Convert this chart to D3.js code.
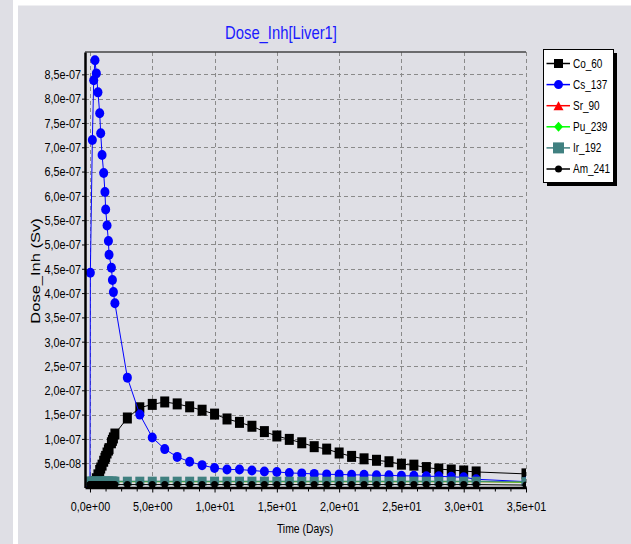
<!DOCTYPE html>
<html>
<head>
<meta charset="utf-8">
<script src="https://cdn.jsdelivr.net/npm/d3@7"></script>
<style>
  body { margin: 0; background: #dfdfe5; }
  text { font-family: "Liberation Sans", Arial, sans-serif; }
</style>
</head>
<body>
<div id="chart"></div>
<script>
// time points (days)
const times = [0, 0.03, 0.19, 0.3, 0.4, 0.51, 0.64, 0.78, 0.86, 0.97, 1.1, 1.2, 1.26, 1.37, 1.48, 1.53, 1.72, 1.8, 1.88, 2.0,
  3, 4, 5, 6, 7, 8, 9, 10, 11, 12, 13, 14, 15, 16, 17, 18, 19, 20, 21, 22, 23, 24, 25, 26, 27, 28, 29, 30, 31, 35];

// dose values, in units of 1e-7 Sv
const co60 = [0, 0, 0.01, 0.06, 0.12, 0.18, 0.26, 0.35, 0.40, 0.46, 0.54, 0.60, 0.64, 0.71, 0.77, 0.80, 0.92, 0.97, 1.02, 1.10,
  1.43, 1.64, 1.71, 1.76, 1.72, 1.66, 1.59, 1.51, 1.41, 1.34, 1.26, 1.15, 1.06, 0.99, 0.92, 0.84, 0.79, 0.71, 0.64, 0.59,
  0.56, 0.53, 0.48, 0.46, 0.41, 0.38, 0.36, 0.34, 0.32, 0.28];
const cs137 = [0, 4.42, 7.15, 8.38, 8.79, 8.52, 8.13, 7.70, 7.29, 6.84, 6.47, 6.08, 5.72, 5.39, 5.07, 4.79, 4.52, 4.27, 4.02, 3.79,
  2.26, 1.50, 1.03, 0.79, 0.63, 0.53, 0.46, 0.40, 0.37, 0.37, 0.35, 0.33, 0.32, 0.30, 0.29, 0.28, 0.27, 0.27, 0.26, 0.26,
  0.25, 0.25, 0.24, 0.24, 0.23, 0.23, 0.22, 0.21, 0.17, 0.12];
const sr90 = [0.12, 0.12, 0.12, 0.12, 0.12, 0.12, 0.12, 0.12, 0.12, 0.12, 0.12, 0.12, 0.12, 0.12, 0.12, 0.12, 0.12, 0.12, 0.12, 0.12,
  0.12, 0.12, 0.12, 0.12, 0.12, 0.12, 0.12, 0.12, 0.12, 0.12, 0.12, 0.12, 0.12, 0.12, 0.12, 0.12, 0.12, 0.12, 0.12, 0.12,
  0.12, 0.12, 0.12, 0.12, 0.12, 0.12, 0.12, 0.12, 0.12, 0.11];
const pu239 = [0.12, 0.12, 0.12, 0.12, 0.12, 0.12, 0.12, 0.12, 0.12, 0.12, 0.12, 0.12, 0.12, 0.12, 0.12, 0.12, 0.12, 0.12, 0.12, 0.12,
  0.12, 0.12, 0.12, 0.12, 0.12, 0.12, 0.12, 0.12, 0.12, 0.12, 0.12, 0.12, 0.12, 0.12, 0.12, 0.12, 0.12, 0.12, 0.12, 0.12,
  0.12, 0.12, 0.12, 0.12, 0.12, 0.12, 0.12, 0.12, 0.12, 0.11];
const ir192 = [0.13, 0.13, 0.13, 0.13, 0.13, 0.13, 0.13, 0.13, 0.13, 0.13, 0.13, 0.13, 0.13, 0.13, 0.13, 0.13, 0.13, 0.13, 0.13, 0.13,
  0.13, 0.13, 0.13, 0.13, 0.13, 0.13, 0.13, 0.13, 0.13, 0.13, 0.13, 0.13, 0.13, 0.13, 0.13, 0.13, 0.13, 0.13, 0.13, 0.13,
  0.13, 0.13, 0.13, 0.13, 0.13, 0.13, 0.13, 0.13, 0.13, 0.12];
const am241 = [0.06, 0.06, 0.06, 0.06, 0.06, 0.06, 0.06, 0.06, 0.06, 0.06, 0.06, 0.06, 0.06, 0.06, 0.06, 0.06, 0.06, 0.06, 0.06, 0.06,
  0.06, 0.06, 0.06, 0.06, 0.06, 0.06, 0.06, 0.06, 0.06, 0.06, 0.06, 0.06, 0.06, 0.06, 0.06, 0.06, 0.06, 0.06, 0.06, 0.06,
  0.06, 0.06, 0.06, 0.06, 0.06, 0.06, 0.06, 0.06, 0.06, 0.05];

const seriesNames = ["Co_60", "Cs_137", "Sr_90", "Pu_239", "Ir_192", "Am_241"];

const xTickValues = [0, 5, 10, 15, 20, 25, 30, 35];
const xTickLabels = ["0,0e+00", "5,0e+00", "1,0e+01", "1,5e+01", "2,0e+01", "2,5e+01", "3,0e+01", "3,5e+01"];
const yTickValues = [0.5, 1.0, 1.5, 2.0, 2.5, 3.0, 3.5, 4.0, 4.5, 5.0, 5.5, 6.0, 6.5, 7.0, 7.5, 8.0, 8.5];
const yTickLabels = ["5,0e-08", "1,0e-07", "1,5e-07", "2,0e-07", "2,5e-07", "3,0e-07", "3,5e-07", "4,0e-07", "4,5e-07",
  "5,0e-07", "5,5e-07", "6,0e-07", "6,5e-07", "7,0e-07", "7,5e-07", "8,0e-07", "8,5e-07"];

const W = 631, H = 544;
const plot = { left: 85, right: 526, top: 52, bottom: 487.5 };
const squeeze = 0.8; // the original's text is horizontally narrow

const svg = d3.select("#chart")
  .append("svg")
  .attr("width", W)
  .attr("height", H);

// window background
svg.append("rect").attr("width", W).attr("height", H).attr("fill", "#dfdfe5");
svg.append("rect").attr("x", 13).attr("y", 0).attr("width", 5).attr("height", H).attr("fill", "#fff");
svg.append("rect").attr("x", 13).attr("y", 0).attr("width", W - 13).attr("height", 5.5).attr("fill", "#fff");

const x = d3.scaleLinear().domain([-0.4, 35]).range([plot.left, plot.right]);
const y = d3.scaleLinear().domain([0, 8.96]).range([plot.bottom, plot.top]);

// narrow text placed at (px, py)
function narrowText(sel, px, py, size, str) {
  return sel.append("text")
    .attr("transform", `translate(${px},${py}) scale(${squeeze},1)`)
    .style("font-size", size + "px")
    .text(str);
}

// grid
const grid = svg.append("g")
  .attr("stroke", "#8a8a8a")
  .attr("stroke-width", 1)
  .attr("stroke-dasharray", "4,3");
grid.selectAll(".hg").data(yTickValues).join("line")
  .attr("x1", plot.left).attr("x2", plot.right)
  .attr("y1", d => Math.round(y(d)) + 0.5).attr("y2", d => Math.round(y(d)) + 0.5);
grid.selectAll(".vg").data(xTickValues).join("line")
  .attr("y1", plot.top).attr("y2", plot.bottom)
  .attr("x1", d => Math.round(x(d)) + 0.5).attr("x2", d => Math.round(x(d)) + 0.5);

// top frame line
svg.append("line")
  .attr("x1", plot.left).attr("x2", plot.right)
  .attr("y1", plot.top).attr("y2", plot.top)
  .attr("stroke", "#444").attr("stroke-width", 1.5);

// series
svg.append("defs").append("clipPath").attr("id", "clip")
  .append("rect")
  .attr("x", plot.left).attr("y", plot.top)
  .attr("width", plot.right - plot.left).attr("height", plot.bottom - plot.top);

const series = [
  { name: seriesNames[0], values: co60, color: "#000000", marker: "rect", w: 9, h: 11 },
  { name: seriesNames[1], values: cs137, color: "#0000ff", marker: "ellipse", w: 9, h: 10 },
  { name: seriesNames[2], values: sr90, color: "#ff0000", marker: "triangle", w: 7, h: 7 },
  { name: seriesNames[3], values: pu239, color: "#00ff00", marker: "diamond", w: 7, h: 7 },
  { name: seriesNames[4], values: ir192, color: "#408080", marker: "rect", w: 9, h: 9 },
  { name: seriesNames[5], values: am241, color: "#000000", marker: "ellipse", w: 7, h: 7 }
];

const line = d3.line().x(d => x(d[0])).y(d => y(d[1]));

function drawMarker(g, m, color, cx, cy) {
  if (m.marker === "rect") {
    g.append("rect").attr("x", cx - m.w / 2).attr("y", cy - m.h / 2)
      .attr("width", m.w).attr("height", m.h).attr("fill", color);
  } else if (m.marker === "ellipse") {
    g.append("ellipse").attr("cx", cx).attr("cy", cy)
      .attr("rx", m.w / 2).attr("ry", m.h / 2).attr("fill", color);
  } else if (m.marker === "triangle") {
    g.append("path").attr("d", `M${cx},${cy - m.h / 2}L${cx + m.w / 2},${cy + m.h / 2}L${cx - m.w / 2},${cy + m.h / 2}Z`)
      .attr("fill", color);
  } else {
    g.append("path").attr("d", `M${cx},${cy - m.h / 2}L${cx + m.w / 2},${cy}L${cx},${cy + m.h / 2}L${cx - m.w / 2},${cy}Z`)
      .attr("fill", color);
  }
}

const plotG = svg.append("g").attr("clip-path", "url(#clip)");
series.forEach(s => {
  const pts = times.map((t, i) => [t, s.values[i]]);
  const g = plotG.append("g");
  g.append("path")
    .datum(pts)
    .attr("d", line)
    .attr("fill", "none")
    .attr("stroke", s.color)
    .attr("stroke-width", 1);
  pts.forEach(p => drawMarker(g, s, s.color, x(p[0]), y(p[1])));
});

// axes
const yAxis = svg.append("g")
  .attr("transform", `translate(${plot.left},0)`)
  .call(d3.axisLeft(y).tickValues(yTickValues).tickFormat((d, i) => yTickLabels[i]).tickSize(3).tickPadding(2).tickSizeOuter(0));
yAxis.select(".domain").attr("stroke", "#000").attr("stroke-width", 2.5);
yAxis.selectAll("text")
  .style("font-size", "13.5px")
  .attr("fill", "#000")
  .attr("transform", `scale(${squeeze},1)`);

const xAxis = svg.append("g")
  .attr("transform", `translate(0,${plot.bottom})`)
  .call(d3.axisBottom(x).tickValues(xTickValues).tickFormat((d, i) => xTickLabels[i]).tickSize(5).tickPadding(9).tickSizeOuter(0));
xAxis.select(".domain").attr("stroke", "#000").attr("stroke-width", 2.5);
xAxis.selectAll("text")
  .style("font-size", "13.5px")
  .attr("fill", "#000")
  .attr("transform", `scale(${squeeze},1)`);

// minor ticks on x
const minor = d3.range(0, 35, 1.25).filter(v => v % 5 !== 0);
svg.append("g")
  .attr("transform", `translate(0,${plot.bottom})`)
  .call(d3.axisBottom(x).tickValues(minor).tickFormat("").tickSize(4).tickSizeOuter(0))
  .call(g => g.select(".domain").remove());

// title and axis labels
narrowText(svg, 281, 39, 18.5, "Dose_Inh[Liver1]")
  .attr("text-anchor", "middle")
  .attr("fill", "#1a1aff");

svg.append("text")
  .attr("text-anchor", "middle")
  .attr("transform", "translate(35,271) rotate(-90) scale(1,0.82)")
  .attr("dy", "0.35em")
  .style("font-size", "16.5px")
  .text("Dose_Inh (Sv)");

narrowText(svg, 305, 533, 13, "Time (Days)")
  .attr("text-anchor", "middle");

// legend
const lg = { x: 543, y: 49, w: 70, h: 133 };
svg.append("rect").attr("x", lg.x + 4).attr("y", lg.y + 4).attr("width", lg.w).attr("height", lg.h).attr("fill", "#000");
svg.append("rect").attr("x", lg.x + 0.5).attr("y", lg.y + 0.5).attr("width", lg.w).attr("height", lg.h)
  .attr("fill", "#fff").attr("stroke", "#000").attr("stroke-width", 1);

const legendSize = [
  { w: 9, h: 9 }, { w: 9, h: 9 }, { w: 10, h: 9 }, { w: 9, h: 10 }, { w: 11, h: 11 }, { w: 7, h: 7 }
];
series.forEach((s, i) => {
  const cy = 63.5 + i * 21.1;
  const g = svg.append("g");
  g.append("line")
    .attr("x1", 546.5).attr("x2", 570)
    .attr("y1", cy).attr("y2", cy)
    .attr("stroke", s.color).attr("stroke-width", 1.5);
  drawMarker(g, { marker: s.marker, w: legendSize[i].w, h: legendSize[i].h }, s.color, 558.5, cy);
  narrowText(g, 573, cy, 12.5, s.name)
    .attr("dy", "0.35em");
});
</script>
</body>
</html>
